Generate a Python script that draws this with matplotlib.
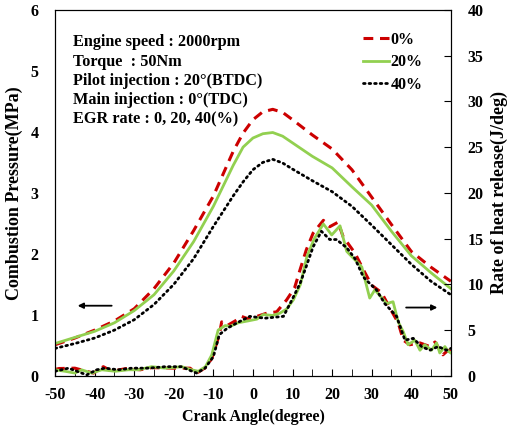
import matplotlib
matplotlib.use("Agg")
import matplotlib.pyplot as plt

plt.rcParams['font.family'] = ['Liberation Serif', 'DejaVu Serif']
plt.rcParams['font.weight'] = 'bold'
plt.rcParams['axes.unicode_minus'] = False

# combustion pressure (MPa) vs crank angle
p_deg = [-50, -45, -40, -35, -30, -25, -20, -15, -10, -5, -2.5, 0, 2.5, 5, 7.5,
         10, 15, 20, 25, 30, 35, 40, 45, 50]
p_egr0 = [0.51, 0.62, 0.75, 0.90, 1.10, 1.43, 1.85, 2.38, 2.95, 3.68, 3.98, 4.20,
          4.33, 4.37, 4.32, 4.20, 3.95, 3.72, 3.38, 2.93, 2.48, 2.04, 1.78, 1.55]
p_egr20 = [0.53, 0.63, 0.73, 0.87, 1.07, 1.33, 1.72, 2.20, 2.78, 3.45, 3.75, 3.90,
           3.97, 3.99, 3.93, 3.82, 3.60, 3.41, 3.10, 2.80, 2.37, 1.97, 1.69, 1.43]
p_egr40 = [0.45, 0.53, 0.62, 0.75, 0.92, 1.17, 1.50, 1.92, 2.45, 2.95, 3.18, 3.38,
           3.50, 3.55, 3.49, 3.39, 3.20, 3.02, 2.78, 2.47, 2.15, 1.83, 1.55, 1.33]

# rate of heat release (J/deg)
h_deg0 = [-50, -49, -45, -40.3, -37.8, -35.7, -32, -28.5, -25.6, -20.1, -15.9, -14.2,
          -12, -10.4, -8.5, -7.9, -6.5, -4.5, -2.9, -1, 1, 3.5, 6, 8.5, 10.5, 11.9,
          13.5, 15.2, 17.8, 19.4, 21.5, 22.8, 25.8, 27.9, 30, 32.5, 34.6, 36.7, 38,
          39.6, 42.2, 44.7, 46, 48, 49.3, 50]
h_egr0 = [0.7, 0.8, 0.84, 0.3, 1.0, 0.5, 0.8, 0.66, 0.9, 0.84, 0.84, 0.3,
          0.9, 1.9, 4.5, 5.9, 5.5, 6.0, 6.5, 6.2, 6.5, 6.85, 7.0, 8.3, 9.6, 11.6,
          13.8, 15.6, 17.0, 16.3, 16.8, 15.2, 13.4, 11.6, 9.9, 9.1, 7.4, 5.8, 3.9,
          3.4, 3.6, 3.2, 3.7, 2.3, 2.8, 2.6]

h_deg20 = [-50, -47.5, -45, -43.3, -40.7, -38.2, -34.8, -31.5, -29, -25.6, -22.2, -18,
           -15.5, -13.8, -12, -10.4, -8.8, -7, -5.8, -3.7, -1.3, 1, 2.6, 5, 6.8, 8.5,
           10.2, 12, 13.6, 15.5, 17.8, 19.9, 22, 23.7, 25.5, 27.5, 29.5, 30.8, 32,
           33.8, 35.4, 36.7, 38, 39.2, 40.9, 42.2, 43.4, 45.1, 46.4, 47.2, 48.5, 49.3, 50]
h_egr20 = [0.66, 0.5, 0.3, 0.66, 0.3, 0.66, 0.5, 0.66, 0.66, 1.0, 0.84, 1.0,
           0.66, 0.5, 1.0, 2.3, 5.0, 5.5, 5.4, 5.8, 6.0, 6.2, 6.7, 6.6, 6.85, 7.3,
           8.3, 10.0, 13.0, 15.0, 16.6, 15.4, 16.4, 13.6, 12.8, 11.9, 8.5, 9.4, 8.8,
           7.9, 8.1, 5.9, 4.8, 3.4, 3.9, 2.8, 3.4, 2.8, 3.6, 2.5, 3.2, 2.7, 2.5]

h_deg40 = [-50, -46.6, -44.5, -42, -39.5, -37.4, -34, -30.6, -26.4, -22.2, -18, -16.3,
           -14.2, -12.1, -10, -8.5, -6.5, -4, -0.8, 3, 7.7, 9.5, 11.9, 13.5, 15.2,
           17.3, 19.4, 21.1, 23.7, 25.8, 27.9, 29.5, 31.2, 33.3, 36.3, 38.4, 40.5,
           42.6, 44.7, 46.8, 48.9, 50]
h_egr40 = [0.5, 0.84, 0.5, 0.1, 0.66, 0.84, 0.66, 0.84, 0.84, 1.0, 1.0, 0.66,
           0.3, 0.84, 2.1, 4.5, 5.2, 5.8, 6.5, 6.3, 6.5, 8.0, 10.1, 12.0, 14.1,
           15.8, 14.9, 14.9, 14.0, 12.8, 10.8, 10.1, 9.4, 7.9, 6.5, 3.9, 4.1,
           3.2, 2.8, 3.2, 2.8, 3.0]

labels = ['0%', '20%', '40%']
notes = ['Engine speed : 2000rpm', 'Torque  : 50Nm', 'Pilot injection : 20\u00b0(BTDC)',
         'Main injection : 0\u00b0(TDC)', 'EGR rate : 0, 20, 40(%)']

red = '#cc0000'
green = '#92d050'
red_ls = (0, (3.2, 2.2))
dot_ls = (0, (0.6, 1.4))

fig = plt.figure(figsize=(5.1, 4.32), dpi=100)
ax = fig.add_axes([0.108, 0.130, 0.776, 0.847])
ax2 = ax.twinx()

ax.plot(p_deg, p_egr0, color=red, lw=2.2, ls=red_ls, label=labels[0])
ax.plot(p_deg, p_egr20, color=green, lw=2.0, label=labels[1])
ax.plot(p_deg, p_egr40, color='black', lw=2.0, ls=dot_ls, dash_capstyle='round', label=labels[2])

ax2.plot(h_deg0, h_egr0, color=red, lw=2.2, ls=red_ls)
ax2.plot(h_deg20, h_egr20, color=green, lw=2.0)
ax2.plot(h_deg40, h_egr40, color='black', lw=2.0, ls=dot_ls, dash_capstyle='round')

ax.set_xlim(-50, 50)
ax.set_ylim(0, 6)
ax2.set_ylim(0, 40)
ax.set_xticks(range(-50, 51, 10))
ax.set_xticks(range(-45, 50, 10), minor=True)
ax.set_yticks(range(0, 7))
ax2.set_yticks(range(0, 41, 5))

ax.tick_params(axis='x', which='both', direction='in', length=5, labelsize=11.5, pad=8)
ax.tick_params(axis='y', length=0, labelsize=11.5, pad=12)
ax2.tick_params(axis='y', direction='in', length=5, labelsize=11.5, pad=12)

ax.set_xlabel('Crank Angle(degree)', fontsize=11.5, fontweight='bold', labelpad=4)
ax.set_ylabel('Combustion Pressure(MPa)', fontsize=13, fontweight='bold', labelpad=5)
ax2.set_ylabel('Rate of heat release(J/deg)', fontsize=13, fontweight='bold', labelpad=5)

for i, t in enumerate(notes):
    ax.text(0.046, 0.912 - i * 0.053, t, transform=ax.transAxes, fontsize=11.7,
            fontweight='bold', va='center', ha='left')

ax.legend(loc='upper right', bbox_to_anchor=(0.965, 0.98), frameon=False,
          handlelength=1.6, handletextpad=0.1, labelspacing=0.42,
          prop={'weight': 'bold', 'size': 11.5})

ax.annotate('', xy=(-45, 1.15), xytext=(-35, 1.15),
            arrowprops=dict(arrowstyle='-|>', color='black', lw=1.3, mutation_scale=8))
ax.annotate('', xy=(47.3, 1.12), xytext=(38, 1.12),
            arrowprops=dict(arrowstyle='-|>', color='black', lw=1.3, mutation_scale=8))

fig.savefig('out.png', dpi=100)
